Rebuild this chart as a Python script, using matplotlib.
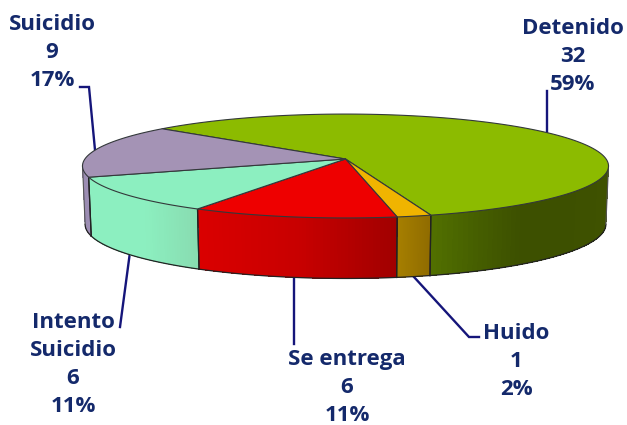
import numpy as np
import matplotlib
matplotlib.use('Agg')
import matplotlib.pyplot as plt
from matplotlib.colors import to_rgb

categories = ['Detenido', 'Huido', 'Se entrega', 'Intento\nSuicidio', 'Suicidio']
values = [32, 1, 6, 6, 9]

top_colors = ['#8cbb00', '#f0b400', '#ee0000', '#8cefc0', '#a493b5']
# wall shading, left to right on screen
wall_colors = [
    ['#527000', '#465f00', '#3d5000', '#3d5000', '#3f5200'],
    ['#a67f00', '#8f6b00'],
    ['#da0000', '#c80000', '#a00000'],
    ['#8cefc0', '#8cefc0', '#88dcb0'],
    ['#9a8bb0', '#a090b8'],
]

label_pos = [(573, 26), (516, 331), (347, 357), (73, 320), (52, 22)]
leaders = [
    [(547, 133), (547, 91)],
    [(414, 277), (469, 337), (479, 337)],
    [(294, 277), (294, 344)],
    [(130, 252), (120, 327)],
    [(80, 87), (89, 87), (95, 150)],
]

# pie geometry in pixels, p is the perspective of the tilted disc
cx, cy = 345.5, 159
ax_x, ax_y = 260.6, 51
p = 0.135
start = -49.9
vis_lo = np.degrees(np.arccos(-p))
vis_hi = 360 - vis_lo
text_color = '#14296b'
line_color = '#15157a'


def project(theta):
    t = np.radians(theta)
    u, v = np.sin(t), -np.cos(t)
    w = 1 - p * v
    return cx + ax_x * u / w, cy + ax_y * v / w


def project_bottom(theta):
    x, y = project(theta)
    v = -np.cos(np.radians(theta))
    return cx + (x - cx) * 0.99, y + 58 + 2.5 * v


def wall_color(stops, t):
    rgb = np.array([to_rgb(c) for c in stops])
    pos = np.linspace(0, 1, len(stops))
    return [np.interp(t, pos, rgb[:, i]) for i in range(3)]


fig = plt.figure(figsize=(6.27, 4.25), dpi=100, facecolor='white')
ax = fig.add_axes([0, 0, 1, 1])
ax.set_xlim(0, 627)
ax.set_ylim(425, 0)
ax.axis('off')

total = sum(values)
edges = start + np.cumsum([0] + values) * 360 / total

# side walls
for i in range(len(values)):
    a = max(edges[i], vis_lo)
    b = min(edges[i + 1], vis_hi)
    if b <= a:
        continue
    th = np.linspace(a, b, 60)
    xt, yt = project(th)
    xb, yb = project_bottom(th)
    for j in range(len(th) - 1):
        # shading follows the screen position
        t = (0.5 * (xt[j] + xt[j + 1]) - xt.min()) / (xt.max() - xt.min())
        c = wall_color(wall_colors[i], t)
        ax.fill([xt[j], xt[j + 1], xb[j + 1], xb[j]],
                [yt[j], yt[j + 1], yb[j + 1], yb[j]],
                facecolor=c, edgecolor='none', antialiased=False, zorder=2)
    ax.plot(xb, yb, color='#222222', lw=0.9, zorder=3)
    for e in (a, b):
        if vis_lo < e < vis_hi:
            x0, y0 = project(e)
            x1, y1 = project_bottom(e)
            ax.plot([x0, x1], [y0, y1], color='#222222', lw=0.9, zorder=3)

# silhouette on both sides
for e in (vis_lo, vis_hi):
    x0, y0 = project(e)
    x1, y1 = project_bottom(e)
    ax.plot([x0, x1], [y0, y1], color='#555555', lw=0.8, zorder=3)

# top slices
for i in range(len(values)):
    th = np.linspace(edges[i], edges[i + 1], 200)
    x, y = project(th)
    ax.fill(np.r_[cx, x], np.r_[cy, y], facecolor=top_colors[i],
            edgecolor='#33383a', lw=0.8, joinstyle='round', zorder=4)

# leaders and labels
for pts in leaders:
    xs, ys = zip(*pts)
    ax.plot(xs, ys, color=line_color, lw=1.7, zorder=1, solid_joinstyle='miter')

for name, val, (lx, ly) in zip(categories, values, label_pos):
    pct = round(100 * val / total)
    ax.text(lx, ly - 8, f'{name}\n{val}\n{pct}%', ha='center', va='top',
            family='Open Sans', fontweight='bold', fontsize=16,
            color=text_color, linespacing=1.43, zorder=6)

fig.savefig('out.png', dpi=100)
plt.close(fig)
